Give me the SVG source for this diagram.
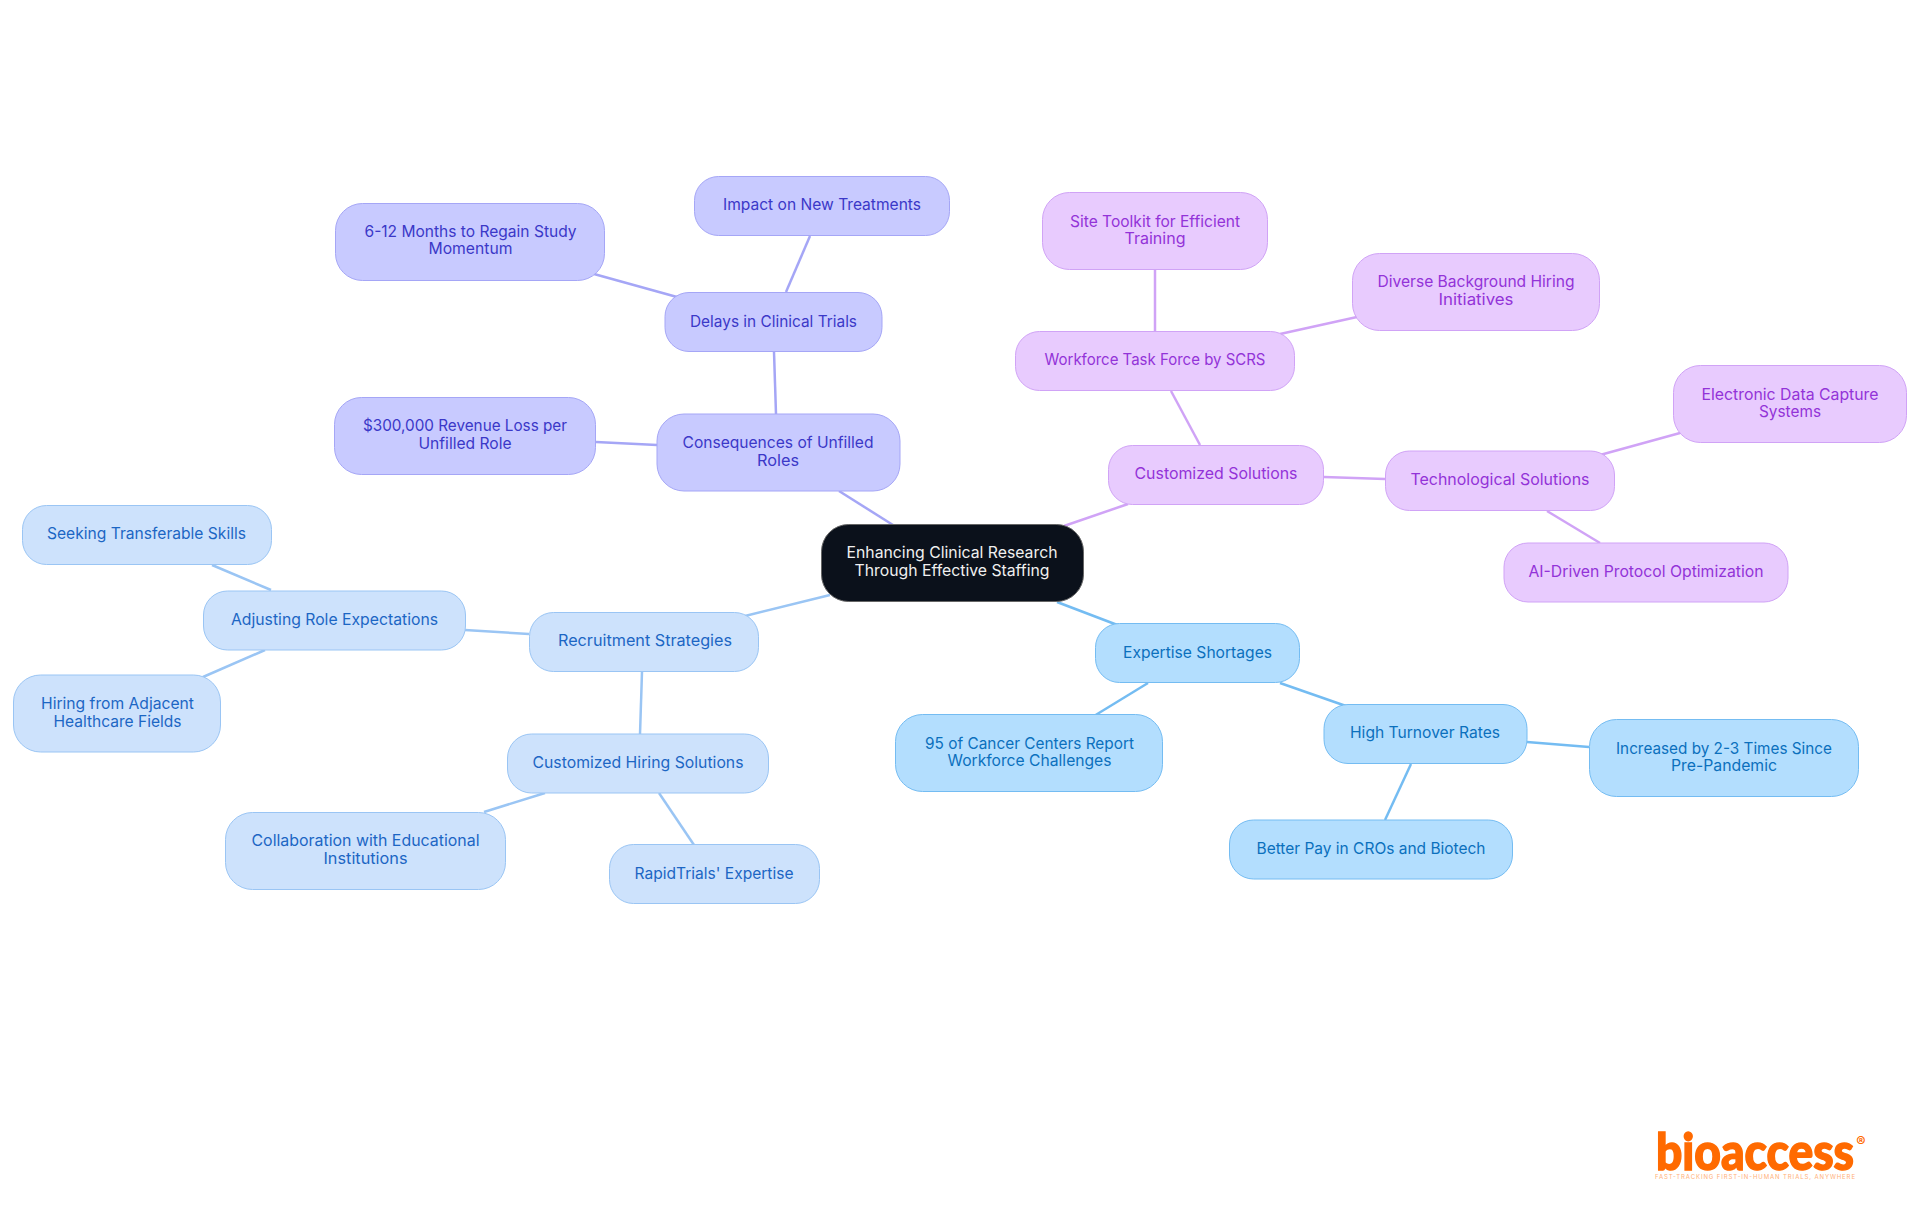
<svg xmlns="http://www.w3.org/2000/svg" width="1920" height="1215" viewBox="0 0 1920 1215">
<style>
text{font-family:"Inter","Noto Sans",sans-serif;font-size:16px;text-anchor:middle;letter-spacing:0}
.l{fill:none;stroke-width:2.5}
.n rect{stroke-width:1}
.in rect{fill:#c8caff;stroke:#a5a6f6}.in text{fill:#3b38c8}
.bl rect{fill:#cde2fc;stroke:#9ac5f4}.bl text{fill:#1c66c4}
.sk rect{fill:#b3defe;stroke:#74bcf2}.sk text{fill:#0b70bd}
.pu rect{fill:#e8cbfe;stroke:#d0a3f6}.pu text{fill:#9333d8}
</style>
<rect width="1920" height="1215" fill="#fff"/>
<g id="connectors">
<g class="l" stroke="#a5a6f6"><path d="M893 525 L839 491"/><path d="M776 414 L774 352"/><path d="M786 292 L810 236"/><path d="M677 297 L594 274"/><path d="M657 445 L596 442"/></g>
<g class="l" stroke="#d0a3f6"><path d="M1064 526 L1128 504"/><path d="M1200 445 L1171 391"/><path d="M1324 477 L1385 479"/><path d="M1155 331 L1155 270"/><path d="M1280 334 L1357 317"/><path d="M1600 455 L1680 433"/><path d="M1547 511 L1600 543"/></g>
<g class="l" stroke="#74bcf2"><path d="M1057 602 L1120 626"/><path d="M1148 683 L1094 716"/><path d="M1280 683 L1346 706"/><path d="M1527 742 L1589 747"/><path d="M1411 764 L1385 820"/></g>
<g class="l" stroke="#9ac5f4"><path d="M830 595 L745 616"/><path d="M529 634 L465 630"/><path d="M271 590 L212 565"/><path d="M265 650 L203 677"/><path d="M642 672 L640 734"/><path d="M545 793 L484 812"/><path d="M659 793 L694 845"/></g>
</g>
<g id="root" class="n"><rect x="821.500" y="524.500" width="262" height="77" rx="27" fill="#0b111b" stroke="#666"/><text x="952" y="558" fill="#f0f0f0" textLength="211" lengthAdjust="spacingAndGlyphs">Enhancing Clinical Research</text><text x="952" y="576" fill="#f0f0f0" textLength="195" lengthAdjust="spacingAndGlyphs">Through Effective Staffing</text></g>
<g id="delays" class="n in"><rect x="665" y="292.500" width="217" height="59" rx="24"/><text x="773.500" y="327" textLength="167" lengthAdjust="spacingAndGlyphs">Delays in Clinical Trials</text></g>
<g id="consequences" class="n in"><rect x="657" y="414" width="243" height="77" rx="27"/><text x="778" y="448" textLength="191" lengthAdjust="spacingAndGlyphs">Consequences of Unfilled</text><text x="778" y="466" textLength="42" lengthAdjust="spacingAndGlyphs">Roles</text></g>
<g id="impact" class="n in"><rect x="694.500" y="176.500" width="255" height="59" rx="24"/><text x="822" y="210" textLength="198" lengthAdjust="spacingAndGlyphs">Impact on New Treatments</text></g>
<g id="months" class="n in"><rect x="335.500" y="203.500" width="269" height="77" rx="27"/><text x="470.500" y="237" textLength="212" lengthAdjust="spacingAndGlyphs">6-12 Months to Regain Study</text><text x="470.500" y="254" textLength="84" lengthAdjust="spacingAndGlyphs">Momentum</text></g>
<g id="loss" class="n in"><rect x="334.500" y="397.500" width="261" height="77" rx="27"/><text x="465" y="431" textLength="204" lengthAdjust="spacingAndGlyphs">$300,000 Revenue Loss per</text><text x="465" y="449" textLength="93" lengthAdjust="spacingAndGlyphs">Unfilled Role</text></g>
<g id="solutions" class="n pu"><rect x="1108.500" y="445.500" width="215" height="59" rx="24"/><text x="1216" y="479" textLength="163" lengthAdjust="spacingAndGlyphs">Customized Solutions</text></g>
<g id="taskforce" class="n pu"><rect x="1015.500" y="331.500" width="279" height="59" rx="24"/><text x="1155" y="365" textLength="221" lengthAdjust="spacingAndGlyphs">Workforce Task Force by SCRS</text></g>
<g id="toolkit" class="n pu"><rect x="1042.500" y="192.500" width="225" height="77" rx="27"/><text x="1155" y="227" textLength="170" lengthAdjust="spacingAndGlyphs">Site Toolkit for Efficient</text><text x="1155" y="244" textLength="61" lengthAdjust="spacingAndGlyphs">Training</text></g>
<g id="diverse" class="n pu"><rect x="1352.500" y="253.500" width="247" height="77" rx="27"/><text x="1476" y="287" textLength="197" lengthAdjust="spacingAndGlyphs">Diverse Background Hiring</text><text x="1476" y="305" textLength="75" lengthAdjust="spacingAndGlyphs">Initiatives</text></g>
<g id="tech" class="n pu"><rect x="1385.500" y="451" width="229" height="59.500" rx="24"/><text x="1500" y="485" textLength="179" lengthAdjust="spacingAndGlyphs">Technological Solutions</text></g>
<g id="edc" class="n pu"><rect x="1673.500" y="365.500" width="233" height="77" rx="27"/><text x="1790" y="400" textLength="177" lengthAdjust="spacingAndGlyphs">Electronic Data Capture</text><text x="1790" y="417" textLength="62" lengthAdjust="spacingAndGlyphs">Systems</text></g>
<g id="ai" class="n pu"><rect x="1504" y="543" width="284" height="59" rx="24"/><text x="1646" y="577" textLength="235" lengthAdjust="spacingAndGlyphs">AI-Driven Protocol Optimization</text></g>
<g id="expertise" class="n sk"><rect x="1095.500" y="623.500" width="204" height="59" rx="24"/><text x="1197.500" y="658" textLength="149" lengthAdjust="spacingAndGlyphs">Expertise Shortages</text></g>
<g id="cancer" class="n sk"><rect x="895.500" y="714.500" width="267" height="77" rx="27"/><text x="1029.500" y="749" textLength="209" lengthAdjust="spacingAndGlyphs">95 of Cancer Centers Report</text><text x="1029.500" y="766" textLength="164" lengthAdjust="spacingAndGlyphs">Workforce Challenges</text></g>
<g id="turnover" class="n sk"><rect x="1324" y="704.500" width="203" height="59" rx="24"/><text x="1425" y="738" textLength="150" lengthAdjust="spacingAndGlyphs">High Turnover Rates</text></g>
<g id="increased" class="n sk"><rect x="1589.500" y="719.500" width="269" height="77" rx="27"/><text x="1724" y="754" textLength="216" lengthAdjust="spacingAndGlyphs">Increased by 2-3 Times Since</text><text x="1724" y="771" textLength="106" lengthAdjust="spacingAndGlyphs">Pre-Pandemic</text></g>
<g id="pay" class="n sk"><rect x="1229.500" y="820" width="283" height="59" rx="24"/><text x="1371" y="854" textLength="229" lengthAdjust="spacingAndGlyphs">Better Pay in CROs and Biotech</text></g>
<g id="recruit" class="n bl"><rect x="529.500" y="612.500" width="229" height="59" rx="24"/><text x="645" y="646" textLength="174" lengthAdjust="spacingAndGlyphs">Recruitment Strategies</text></g>
<g id="adjusting" class="n bl"><rect x="203.500" y="591" width="262" height="59" rx="24"/><text x="334.500" y="625" textLength="207" lengthAdjust="spacingAndGlyphs">Adjusting Role Expectations</text></g>
<g id="seeking" class="n bl"><rect x="22.500" y="505.500" width="249" height="59" rx="24"/><text x="146.500" y="539" textLength="199" lengthAdjust="spacingAndGlyphs">Seeking Transferable Skills</text></g>
<g id="hiring" class="n bl"><rect x="13.500" y="675" width="207" height="77" rx="27"/><text x="117.500" y="709" textLength="153" lengthAdjust="spacingAndGlyphs">Hiring from Adjacent</text><text x="117.500" y="727" textLength="128" lengthAdjust="spacingAndGlyphs">Healthcare Fields</text></g>
<g id="custhiring" class="n bl"><rect x="507.500" y="734" width="261" height="59" rx="24"/><text x="638" y="768" textLength="211" lengthAdjust="spacingAndGlyphs">Customized Hiring Solutions</text></g>
<g id="collab" class="n bl"><rect x="225.500" y="812.500" width="280" height="77" rx="27"/><text x="365.500" y="846" textLength="228" lengthAdjust="spacingAndGlyphs">Collaboration with Educational</text><text x="365.500" y="864" textLength="84" lengthAdjust="spacingAndGlyphs">Institutions</text></g>
<g id="rapid" class="n bl"><rect x="609.500" y="844.500" width="210" height="59" rx="24"/><text x="714" y="879" textLength="159" lengthAdjust="spacingAndGlyphs">RapidTrials' Expertise</text></g>
<g id="logo"><text x="1656" y="1170" style="font-family:'Lato',sans-serif;font-size:52px;font-weight:900;text-anchor:start" fill="#ff6a00" stroke="#ff6a00" stroke-width="1.500" textLength="198" lengthAdjust="spacingAndGlyphs">bioaccess</text><text x="1861" y="1147" style="font-size:14px;font-weight:700" fill="#ff6a00">®</text><text x="1655" y="1179" style="font-size:6px;text-anchor:start" fill="#ffb078" textLength="200" lengthAdjust="spacing">FAST-TRACKING FIRST-IN-HUMAN TRIALS, ANYWHERE</text></g>
</svg>
